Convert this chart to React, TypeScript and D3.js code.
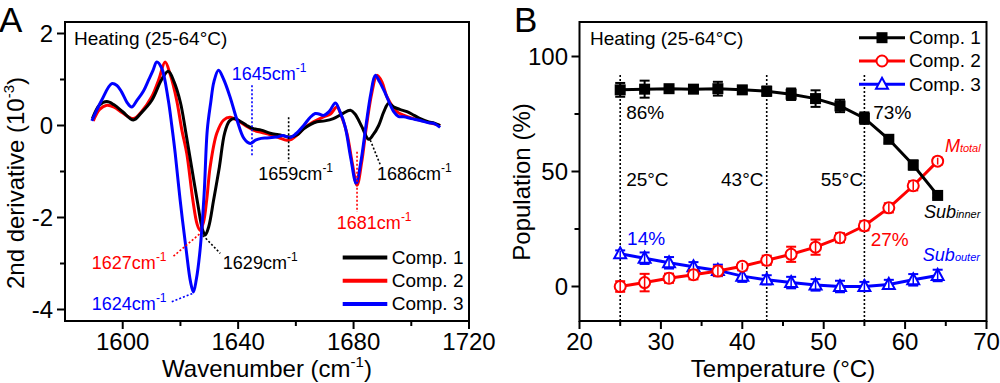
import React from "react";
import * as d3 from "d3";

// ---------- Panel A data (2nd derivative spectra) ----------
const comp1Spec: [number, number][] = [
  [1589.5, 0.15], [1592, 0.45], [1594.5, 0.52], [1597, 0.45], [1600, 0.3], [1603.7, 0.12], [1606.5, 0.28], [1610.1, 0.55], [1613.5, 1.0], [1615.8, 1.18], [1617.8, 0.95], [1620, 0.5], [1622, -0.2], [1624, -0.95], [1626, -1.7], [1627.6, -2.25], [1628.6, -2.38], [1629.8, -2.2], [1631.5, -1.62], [1633.5, -0.9], [1635.3, -0.17], [1637, 0.1], [1638.8, 0.15], [1641, 0.08], [1643, 0.0], [1645.3, -0.07], [1648, -0.1], [1651.1, -0.17], [1654, -0.2], [1658, -0.25], [1660.5, -0.2], [1662.7, -0.07], [1665, 0.02], [1667.3, 0.08], [1670, 0.1], [1673, 0.15], [1676, 0.25], [1678.9, 0.33], [1680.5, 0.25], [1682.9, -0.03], [1685.2, -0.3], [1686.8, -0.2], [1688.7, 0.0], [1690.5, 0.3], [1692.1, 0.48], [1694, 0.4], [1696, 0.35], [1698.5, 0.3], [1701, 0.22], [1703.1, 0.15], [1706, 0.08], [1708, 0.05], [1710, 0.0],
];
const comp2Spec: [number, number][] = [
  [1589.8, 0.1], [1592, 0.35], [1594.5, 0.44], [1597, 0.4], [1600, 0.27], [1603.7, 0.15], [1606.5, 0.3], [1610.1, 0.63], [1612.5, 1.0], [1614.7, 1.38], [1616.5, 1.1], [1618.7, 0.55], [1620.5, -0.1], [1622.2, -0.61], [1624.3, -1.62], [1625.8, -2.15], [1626.8, -2.28], [1628, -2.1], [1629.1, -1.62], [1630.3, -0.9], [1632.6, -0.17], [1635, 0.12], [1637.2, 0.18], [1640, 0.1], [1643, -0.02], [1645.3, -0.1], [1648, -0.15], [1651.1, -0.2], [1654, -0.26], [1656.9, -0.32], [1658.5, -0.3], [1660.4, -0.21], [1663, -0.05], [1666.1, 0.08], [1669.6, 0.19], [1672, 0.25], [1674.2, 0.4], [1675.8, 0.2], [1677.7, -0.17], [1679.5, -0.8], [1681.2, -1.3], [1682.8, -0.8], [1684.5, 0.0], [1686.3, 0.7], [1688.1, 1.09], [1689.8, 0.95], [1691.6, 0.62], [1695, 0.3], [1697.5, 0.22], [1700.8, 0.15], [1704, 0.1], [1707, 0.05], [1710, 0.0],
];
const comp3Spec: [number, number][] = [
  [1589.3, 0.1], [1592.7, 0.55], [1596.2, 0.91], [1598, 0.87], [1599.7, 0.72], [1601.5, 0.5], [1603.1, 0.4], [1605, 0.55], [1607.2, 0.75], [1608.9, 0.98], [1610.5, 1.2], [1611.8, 1.38], [1613.5, 1.25], [1615.8, 0.55], [1617, 0.0], [1618.2, -0.61], [1619.9, -1.62], [1622, -2.71], [1623.5, -3.4], [1624.5, -3.62], [1625.5, -3.35], [1626.8, -2.71], [1628.2, -1.5], [1629.3, -0.1], [1630.5, 0.5], [1631.6, 0.95], [1633.2, 1.2], [1635, 1.0], [1637.2, 0.62], [1639.6, 0.12], [1642, -0.28], [1644.2, -0.39], [1646, -0.32], [1648, -0.28], [1650, -0.27], [1653.4, -0.25], [1655.5, -0.22], [1658, -0.26], [1660, -0.18], [1662.7, 0.0], [1665, 0.18], [1666.7, 0.26], [1668, 0.25], [1669.6, 0.22], [1671.5, 0.3], [1673.7, 0.49], [1675.3, 0.3], [1677.1, -0.03], [1679, -0.7], [1680.9, -1.26], [1682.5, -0.8], [1684.3, 0.0], [1686, 0.7], [1687.5, 1.09], [1689, 0.95], [1691, 0.7], [1693.9, 0.3], [1695.5, 0.2], [1697.4, 0.19], [1700, 0.15], [1703.1, 0.11], [1706, 0.06], [1708, 0.04], [1710, -0.04],
];

const specNames = ["Comp. 1", "Comp. 2", "Comp. 3"];
const colors = ["#000000", "#ff0000", "#0000ff"];

// annotations for panel A: label, color, text pos [w, v], line from/to
const specAnnotations = [
  { label: "1645cm", color: "#0000ff", tx: 1637.8, ty: 0.985, line: [[1644.8, 0.876], [1644.8, -0.646]] },
  { label: "1659cm", color: "#000000", tx: 1647.0, ty: -1.19, line: [[1657.5, 0.18], [1657.5, -0.79]] },
  { label: "1686cm", color: "#000000", tx: 1688.1, ty: -1.19, line: [[1685.8, -0.32], [1689.3, -0.86]] },
  { label: "1681cm", color: "#ff0000", tx: 1674.2, ty: -2.26, line: [[1681.2, -0.57], [1681.2, -1.88]] },
  { label: "1627cm", color: "#ff0000", tx: 1589.3, ty: -3.13, line: [[1617.6, -2.84], [1626.8, -2.35]] },
  { label: "1629cm", color: "#000000", tx: 1634.7, ty: -3.13, line: [[1627.8, -2.39], [1633.8, -2.78]] },
  { label: "1624cm", color: "#0000ff", tx: 1589.3, ty: -4.0, line: [[1617.0, -3.83], [1624.3, -3.65]] },
];

// ---------- Panel B data (population vs temperature) ----------
const temps = [25, 28, 31, 34, 37, 40, 43, 46, 49, 52, 55, 58, 61, 64];
const comp1Pop = [85.5, 85.8, 86, 85.8, 86, 85.5, 84.9, 83.6, 81.7, 78.5, 73.2, 64, 52.8, 39.6];
const comp1Err = [3, 3.7, 1.5, 1.5, 3, 1.5, 2, 2.5, 3.6, 2.7, 2.5, 1.5, 2, 1];
const comp2Pop = [0, 1.7, 3.6, 5.1, 6.7, 8.8, 11.4, 14, 17.1, 21.2, 26.4, 34.2, 43.8, 54.5];
const comp2Err = [2.3, 3.8, 2, 2, 2, 1.5, 2, 3.3, 3.3, 2, 2, 2, 2, 1.5];
const comp3Pop = [14.2, 12.3, 10.3, 8.6, 7, 4.5, 2.9, 1.7, 0.7, 0, 0, 0.9, 2.9, 4.8];
const comp3Err = [1.5, 2.5, 2.5, 2, 2.5, 2.5, 2, 2.5, 2.5, 2.5, 2, 2, 2.5, 2.5];
const markerLines = [25, 43, 55];

const popLabels = [
  { text: "86%", color: "#000000", t: 25.73, v: 72.9 },
  { text: "73%", color: "#000000", t: 56.09, v: 72.9 },
  { text: "25°C", color: "#000000", t: 25.73, v: 43.7 },
  { text: "43°C", color: "#000000", t: 37.39, v: 43.7 },
  { text: "55°C", color: "#000000", t: 49.63, v: 43.7 },
  { text: "14%", color: "#0000ff", t: 25.85, v: 18.1 },
  { text: "27%", color: "#ff0000", t: 55.77, v: 17.6 },
];
const italicLabels = [
  { main: "M", sub: "total", color: "#ff0000", t: 64.89, v: 58.5 },
  { main: "Sub", sub: "inner", color: "#000000", t: 62.31, v: 29.8 },
  { main: "Sub", sub: "outer", color: "#0000ff", t: 62.18, v: 11.1 },
];

const FONT = "'Liberation Sans', Arial, Helvetica, sans-serif";

function Frame({ x0, x1, y0, y1 }: { x0: number; x1: number; y0: number; y1: number }) {
  return <rect x={x0} y={y0} width={x1 - x0} height={y1 - y0} fill="none" stroke="#000" strokeWidth={2} />;
}

export default function App() {
  // Panel A scales
  const ax = d3.scaleLinear().domain([1580, 1720]).range([65, 469]);
  const ay = d3.scaleLinear().domain([-4.25, 2.25]).range([321, 22]);
  // Panel B scales
  const bx = d3.scaleLinear().domain([20, 70]).range([579.5, 986.5]);
  const by = d3.scaleLinear().domain([-15, 115]).range([321, 22]);

  const specLine = d3
    .line<[number, number]>()
    .x((d) => ax(d[0]))
    .y((d) => ay(d[1]))
    .curve(d3.curveCatmullRom.alpha(0.5));

  const popLine = d3
    .line<number>()
    .x((_, i) => bx(temps[i]))
    .y((d) => by(d));

  const specs = [comp1Spec, comp2Spec, comp3Spec];
  const drawOrder = [1, 0, 2];

  const axMajor = [1600, 1640, 1680, 1720];
  const axMinor = [1620, 1660, 1700];
  const ayMajor = [-4, -2, 0, 2];
  const ayMinor = [-3, -1, 1];
  const bxMajor = [20, 30, 40, 50, 60, 70];
  const bxMinor = [25, 35, 45, 55, 65];
  const byMajor = [0, 50, 100];
  const byMinor = [25, 75];

  const pops = [comp1Pop, comp2Pop, comp3Pop];
  const errs = [comp1Err, comp2Err, comp3Err];

  const marker = (k: number, cx: number, cy: number, key: string) => {
    if (k === 0) return <rect key={key} x={cx - 5.5} y={cy - 5.5} width={11} height={11} fill="#000" />;
    if (k === 1) return <circle key={key} cx={cx} cy={cy} r={5.5} fill="#fff" stroke="#ff0000" strokeWidth={2} />;
    return (
      <path
        key={key}
        d={`M${cx},${cy - 6.5} L${cx + 6},${cy + 4.5} L${cx - 6},${cy + 4.5} Z`}
        fill="#fff"
        stroke="#0000ff"
        strokeWidth={2}
      />
    );
  };

  return (
    <svg
      width={1000}
      height={383}
      style={{ position: "absolute", left: 0, top: 0, background: "#fff" }}
      fontFamily={FONT}
    >
      <rect x={0} y={0} width={1000} height={383} fill="#fff" />

      {/* ================= Panel A ================= */}
      <text x={-1} y={31.5} fontSize={35}>A</text>
      {drawOrder.map((k) => (
        <path key={"s" + k} d={specLine(specs[k]) || ""} fill="none" stroke={colors[k]} strokeWidth={3} strokeLinejoin="round" />
      ))}
      {specAnnotations.map((a, i) => (
        <g key={"an" + i}>
          <line
            x1={ax(a.line[0][0])}
            y1={ay(a.line[0][1])}
            x2={ax(a.line[1][0])}
            y2={ay(a.line[1][1])}
            stroke={a.color}
            strokeWidth={1.6}
            strokeDasharray="2,2"
          />
          <text x={ax(a.tx)} y={ay(a.ty)} fill={a.color} fontSize={18}>
            {a.label}
            <tspan fontSize={12} dy={-8}>-1</tspan>
          </text>
        </g>
      ))}
      <text x={74} y={45} fontSize={19}>Heating (25-64°C)</text>
      {specNames.map((n, i) => (
        <g key={"la" + i}>
          <line x1={342.7} x2={387.3} y1={257.5 + i * 23.3} y2={257.5 + i * 23.3} stroke={colors[i]} strokeWidth={4} />
          <text x={391.7} y={263.5 + i * 23.3} fontSize={19}>{n}</text>
        </g>
      ))}
      <Frame x0={65} x1={469} y0={22} y1={321} />
      {axMajor.map((t) => (
        <g key={"axm" + t}>
          <line x1={ax(t)} x2={ax(t)} y1={321} y2={329} stroke="#000" strokeWidth={2} />
          <text x={ax(t)} y={350} fontSize={24} textAnchor="middle">{t}</text>
        </g>
      ))}
      {axMinor.map((t) => (
        <line key={"axn" + t} x1={ax(t)} x2={ax(t)} y1={321} y2={326} stroke="#000" strokeWidth={2} />
      ))}
      {ayMajor.map((t) => (
        <g key={"aym" + t}>
          <line x1={57} x2={65} y1={ay(t)} y2={ay(t)} stroke="#000" strokeWidth={2} />
          <text x={53} y={ay(t) + 8.6} fontSize={24} textAnchor="end">{t}</text>
        </g>
      ))}
      {ayMinor.map((t) => (
        <line key={"ayn" + t} x1={60} x2={65} y1={ay(t)} y2={ay(t)} stroke="#000" strokeWidth={2} />
      ))}
      <text x={267} y={377} fontSize={24} textAnchor="middle">
        Wavenumber (cm<tspan fontSize={15} dy={-10}>-1</tspan><tspan dy={10}>)</tspan>
      </text>
      <text transform="translate(24,183) rotate(-90)" fontSize={24} textAnchor="middle">
        2nd derivative (10<tspan fontSize={15} dy={-10}>-3</tspan><tspan dy={10}>)</tspan>
      </text>

      {/* ================= Panel B ================= */}
      <text x={514} y={31.5} fontSize={35}>B</text>
      {markerLines.map((t) => (
        <line key={"ml" + t} x1={bx(t)} x2={bx(t)} y1={by(92)} y2={321} stroke="#000" strokeWidth={1.6} strokeDasharray="2,2" />
      ))}
      {[2, 1, 0].map((k) => (
        <g key={"pop" + k}>
          <path d={popLine(pops[k]) || ""} fill="none" stroke={colors[k]} strokeWidth={3} />
          {pops[k].map((v, i) => (
            <g key={"eb" + k + "-" + i}>
              <line x1={bx(temps[i])} x2={bx(temps[i])} y1={by(v - errs[k][i])} y2={by(v + errs[k][i])} stroke={colors[k]} strokeWidth={2} />
              <line x1={bx(temps[i]) - 5} x2={bx(temps[i]) + 5} y1={by(v - errs[k][i])} y2={by(v - errs[k][i])} stroke={colors[k]} strokeWidth={2} />
              <line x1={bx(temps[i]) - 5} x2={bx(temps[i]) + 5} y1={by(v + errs[k][i])} y2={by(v + errs[k][i])} stroke={colors[k]} strokeWidth={2} />
            </g>
          ))}
          {pops[k].map((v, i) => marker(k, bx(temps[i]), by(v), "mk" + k + "-" + i))}
          {k !== 0 &&
            pops[k].map((v, i) => (
              <line key={"ebi" + k + "-" + i} x1={bx(temps[i])} x2={bx(temps[i])} y1={by(v - errs[k][i])} y2={by(v + errs[k][i])} stroke={colors[k]} strokeWidth={1.5} />
            ))}
        </g>
      ))}
      {popLabels.map((l, i) => (
        <text key={"pl" + i} x={bx(l.t)} y={by(l.v)} fill={l.color} fontSize={19}>{l.text}</text>
      ))}
      {italicLabels.map((l, i) => (
        <text key={"il" + i} x={bx(l.t)} y={by(l.v)} fill={l.color} fontSize={18} fontStyle="italic">
          {l.main}
          <tspan fontSize={11}>{l.sub}</tspan>
        </text>
      ))}
      <text x={590} y={45} fontSize={19}>Heating (25-64°C)</text>
      {specNames.map((n, i) => (
        <g key={"lb" + i}>
          <line x1={859} x2={905} y1={37.7 + i * 23.3} y2={37.7 + i * 23.3} stroke={colors[i]} strokeWidth={3} />
          {marker(i, 882, 37.7 + i * 23.3, "lm" + i)}
          <text x={909} y={44 + i * 23.3} fontSize={19}>{n}</text>
        </g>
      ))}
      <Frame x0={579.5} x1={986.5} y0={22} y1={321} />
      {bxMajor.map((t) => (
        <g key={"bxm" + t}>
          <line x1={bx(t)} x2={bx(t)} y1={321} y2={329} stroke="#000" strokeWidth={2} />
          <text x={bx(t)} y={350} fontSize={24} textAnchor="middle">{t}</text>
        </g>
      ))}
      {bxMinor.map((t) => (
        <line key={"bxn" + t} x1={bx(t)} x2={bx(t)} y1={321} y2={326} stroke="#000" strokeWidth={2} />
      ))}
      {byMajor.map((t) => (
        <g key={"bym" + t}>
          <line x1={571.5} x2={579.5} y1={by(t)} y2={by(t)} stroke="#000" strokeWidth={2} />
          <text x={568} y={by(t) + 8.6} fontSize={24} textAnchor="end">{t}</text>
        </g>
      ))}
      {byMinor.map((t) => (
        <line key={"byn" + t} x1={574.5} x2={579.5} y1={by(t)} y2={by(t)} stroke="#000" strokeWidth={2} />
      ))}
      <text x={783} y={377} fontSize={24} textAnchor="middle">Temperature (°C)</text>
      <text transform="translate(530,182) rotate(-90)" fontSize={24} textAnchor="middle">Population (%)</text>
    </svg>
  );
}
